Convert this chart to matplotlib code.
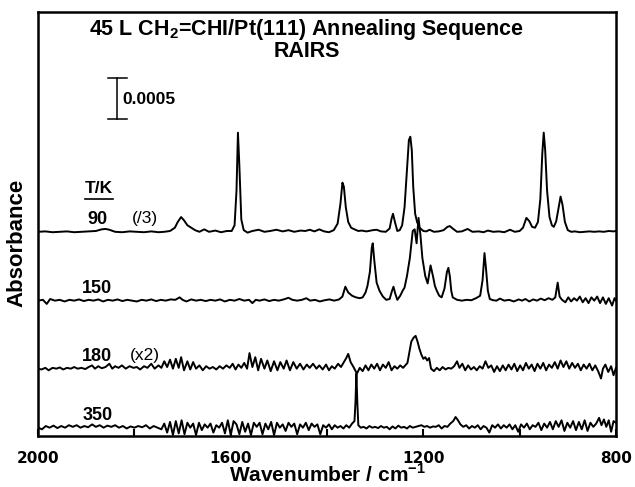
import numpy as np
import matplotlib
matplotlib.use("Agg")
import matplotlib.pyplot as plt
from matplotlib.ticker import MultipleLocator

plt.rcParams['font.family'] = ['Liberation Sans', 'DejaVu Sans']
plt.rcParams['mathtext.fontset'] = 'custom'
plt.rcParams['mathtext.rm'] = 'Liberation Sans:bold'
plt.rcParams['mathtext.bf'] = 'Liberation Sans:bold'

# absorbance in units of 1e-4, as plotted (90 K trace divided by 3, 180 K trace times 2)
wn_90 = [2000, 1985, 1970, 1955, 1940, 1925, 1910, 1895, 1880, 1868, 1860, 1852, 1840, 1825,
         1810, 1795, 1780, 1765, 1750, 1738, 1726, 1716, 1710, 1703, 1697, 1690, 1682, 1674,
         1665, 1655, 1645, 1632, 1620, 1608, 1598, 1592, 1588, 1585, 1582, 1578, 1573, 1565,
         1555, 1542, 1530, 1518, 1505, 1492, 1480, 1468, 1455, 1445, 1436, 1426, 1416, 1406,
         1396, 1386, 1378, 1372, 1368, 1365, 1361, 1356, 1350, 1343, 1335, 1328, 1318, 1305,
         1297, 1288, 1278, 1270, 1266, 1263, 1259, 1254, 1249, 1244, 1239, 1234, 1230, 1227,
         1224, 1221, 1217, 1213, 1208, 1200, 1194, 1187, 1178, 1168, 1158, 1150, 1145, 1139,
         1130, 1120, 1108, 1098, 1085, 1075, 1066, 1055, 1043, 1032, 1020, 1010, 1000, 993,
         986, 980, 974, 968, 962, 957, 953, 950, 947, 943, 938, 933, 929, 924, 919, 915, 911,
         906, 900, 893, 885, 875, 865, 855, 845, 835, 825, 815, 805, 800]
abs_90 = [0.0, 0.05, -0.05, 0.0, 0.05, -0.05, 0.0, 0.05, 0.1, 0.3, 0.35, 0.25, 0.0, -0.05,
          0.05, 0.0, -0.05, 0.05, -0.05, 0.0, 0.1, 0.5, 1.2, 1.8, 1.4, 0.8, 0.5, 0.2,
          0.0, 0.3, 0.0, 0.15, -0.05, 0.1, 0.1, 0.8, 5.0, 12.1, 8.0, 1.5, 0.2, -0.1,
          0.1, 0.25, 0.0, 0.1, 0.25, 0.05, 0.2, 0.0, 0.15, 0.1, 0.25, 0.05, 0.3, 0.05,
          -0.05, 0.2, 1.0, 3.5, 6.0, 5.5, 3.0, 1.2, 0.5, 0.3, 0.1, 0.15, 0.05, 0.2,
          0.25, 0.05, 0.0, 0.4, 1.6, 2.2, 1.2, 0.1, 0.2, 0.8, 3.0, 7.5, 11.2, 11.6,
          10.0, 5.5, 2.2, 1.2, 0.5, 0.1, 0.05, 0.25, 0.0, 0.05, 0.2, 0.6, 0.7, 0.4,
          0.0, 0.05, 0.35, 0.0, 0.05, -0.05, 0.15, 0.0, 0.05, -0.05, 0.25, 0.0, 0.1, 0.5,
          1.7, 1.3, 0.6, 0.5, 1.2, 4.0, 9.5, 12.1, 10.0, 5.0, 1.8, 0.8, 0.6, 1.3, 3.0, 4.3, 3.3,
          1.2, 0.2, 0.0, 0.05, -0.05, 0.0, 0.05, 0.0, 0.05, 0.0, 0.1, 0.05, 0.1]

wn_150 = [2000, 1990, 1982, 1975, 1965, 1955, 1945, 1935, 1925, 1915, 1905, 1895, 1885, 1875,
          1865, 1855, 1845, 1835, 1825, 1815, 1805, 1795, 1785, 1775, 1765, 1755, 1745, 1735,
          1725, 1715, 1706, 1700, 1692, 1682, 1672, 1662, 1652, 1642, 1632, 1622, 1612, 1602,
          1592, 1582, 1572, 1562, 1555, 1548, 1540, 1530, 1520, 1510, 1500, 1490, 1480, 1472,
          1462, 1452, 1443, 1435, 1425, 1415, 1405, 1395, 1385, 1375, 1368, 1362, 1356, 1348,
          1340, 1332, 1326, 1320, 1316, 1311, 1307, 1305, 1302, 1297, 1291, 1284, 1277, 1270,
          1265, 1262, 1258, 1254, 1248, 1243, 1239, 1234, 1228, 1222, 1218, 1214, 1210, 1206,
          1202, 1196, 1191, 1185, 1180, 1176, 1172, 1167, 1162, 1156, 1151, 1148, 1145, 1142,
          1139, 1130, 1120, 1110, 1100, 1089, 1082, 1077, 1073, 1070, 1066, 1062, 1055, 1048,
          1041, 1032, 1022, 1012, 1002, 995, 988, 980, 972, 964, 956, 948, 940, 932, 926, 921,
          917, 912, 905, 899, 893, 887, 881, 875, 869, 863, 857, 851, 845, 839, 833, 827, 821,
          815, 808, 803, 800]
abs_150 = [0.0, 0.1, -0.4, 0.2, 0.0, 0.1, -0.1, 0.1, 0.0, 0.15, -0.05, 0.1, 0.0, 0.15,
           -0.1, 0.1, 0.0, 0.15, -0.05, 0.1, 0.0, -0.1, 0.1, 0.0, 0.15, -0.05, 0.1, 0.0,
           0.15, 0.1, 0.4, 0.1, -0.1, 0.15, 0.0, 0.1, -0.05, 0.1, 0.0, 0.15, -0.1, 0.1,
           0.0, 0.2, 0.0, 0.1, -0.3, 0.1, 0.0, 0.15, -0.05, 0.1, 0.0, 0.15, 0.35, 0.1,
           0.0, 0.1, 0.3, 0.0, 0.1, -0.1, 0.05, 0.15, 0.0, 0.15, 0.5, 1.7, 1.0, 0.6,
           0.4, 0.3, 0.4, 1.0, 1.8, 3.5, 6.5, 7.0, 5.0, 2.2, 1.2, 0.5, 0.1, 0.2,
           1.2, 1.7, 0.8, 0.1, 0.6, 1.2, 1.6, 3.0, 5.2, 8.5, 8.7, 7.0, 10.1, 8.0,
           5.2, 3.0, 2.1, 4.3, 3.0, 1.8, 1.2, 0.6, 0.4, 1.5, 3.5, 4.0, 3.0, 1.2,
           0.4, 0.1, 0.0, 0.1, 0.05, 0.35, 0.6, 2.5, 5.8, 4.0, 1.2, 0.2, 0.05, 0.0,
           0.25, 0.0, 0.1, -0.1, 0.15, 0.0, 0.2, -0.1, 0.15, 0.0, 0.25, 0.05, 0.3, 0.1, 0.4, 2.2,
           0.5, 0.1, -0.2, 0.4, -0.1, 0.3, 0.0, 0.5, -0.2, 0.3, -0.3, 0.4, 0.0, 0.5, -0.3, 0.4, -0.4,
           0.3, -0.6, 0.3, 0.0]

wn_180 = [2000, 1993, 1985, 1978, 1970, 1962, 1955, 1948, 1940, 1932, 1925, 1918, 1910, 1902,
          1895, 1888, 1882, 1875, 1868, 1860, 1852, 1846, 1840, 1833, 1826, 1818, 1810, 1802,
          1795, 1788, 1780, 1773, 1765, 1758, 1750, 1744, 1738, 1732, 1726, 1720, 1714, 1708,
          1703, 1697, 1690, 1684, 1678, 1672, 1665, 1658, 1651, 1644, 1637, 1630, 1623, 1616,
          1609, 1602, 1596, 1590, 1584, 1578, 1572, 1566, 1561, 1555, 1549, 1543, 1537, 1530,
          1524, 1517, 1510, 1503, 1497, 1490, 1484, 1477, 1470, 1463, 1456, 1449, 1442, 1436,
          1429, 1422, 1416, 1409, 1402, 1396, 1390, 1384, 1377, 1371, 1365, 1360, 1356, 1351,
          1345, 1338, 1332, 1326, 1320, 1314, 1308, 1302, 1296, 1290, 1284, 1278, 1272, 1266,
          1260, 1254, 1248, 1242, 1236, 1233, 1229, 1225, 1220, 1216, 1212, 1208, 1204, 1200,
          1196, 1192, 1188, 1184, 1178, 1172, 1166, 1160, 1154, 1148, 1142, 1136, 1130, 1125,
          1119, 1113, 1107, 1101, 1095, 1089, 1083, 1077, 1071, 1065, 1059, 1053, 1047, 1041,
          1035, 1029, 1023, 1017, 1011, 1005, 999, 993, 987, 981, 975, 969, 963, 957, 951, 945,
          939, 933, 927, 921, 915, 909, 903, 897, 891, 885, 879, 873, 867, 861, 855, 849, 843,
          837, 831, 827, 822, 816, 810, 805, 800]
abs_180 = [0.0, -0.1, 0.1, -0.2, 0.1, 0.0, 0.15, -0.1, 0.1, 0.0, 0.2, 0.0, 0.1, -0.05,
           0.2, 0.4, 0.0, 0.3, 0.05, 0.2, 0.6, 0.0, 0.3, 0.1, 0.4, 0.0, 0.3, 0.1,
           0.2, -0.1, 0.3, 0.1, 0.6, 0.0, 0.4, 0.1, 0.9, 0.2, 1.1, 0.0, 1.2, 0.1,
           1.4, -0.2, 0.9, -0.1, 0.8, 0.0, 0.4, -0.2, 0.3, 0.0, 0.2, -0.1, 0.3, 0.0,
           0.4, 0.1, 0.6, -0.1, 0.5, 0.1, 0.7, 0.0, 1.9, 0.2, 1.4, -0.2, 1.2, 0.0,
           1.0, -0.3, 0.9, -0.2, 0.8, 0.0, 1.0, -0.2, 0.8, 0.0, 0.6, -0.1, 0.5, 0.1,
           0.6, 0.0, 0.4, -0.1, 0.5, -0.2, 0.3, 0.0, 0.6, 0.2, 0.8, 1.3, 1.8, 0.8,
           0.2, -0.6, 0.1, -0.3, 0.4, -0.2, 0.5, 0.0, 0.6, -0.2, 0.5, 0.1, 0.8, -0.2,
           0.3, 0.0, 0.4, 0.1, 0.5, 0.7, 2.0, 3.3, 3.8, 4.0, 3.3, 2.4, 1.7, 1.2,
           1.4, 1.0, 1.3, 0.0, -0.3, 0.1, -0.2, 0.2, -0.1, 0.1, 0.0, 0.3, 0.9, 0.1,
           0.6, -0.2, 0.4, -0.1, 0.2, -0.2, 0.3, 0.0, 0.9, 0.1, 0.4, -0.4, 0.3, -0.3,
           0.4, -0.2, 0.5, -0.1, 0.6, -0.3, 0.4, -0.2, 0.7, 0.0, 0.5, -0.3, 0.6, 0.0, 0.7, -0.2,
           0.5, 0.1, 0.8, 0.0, 1.0, 0.2, 0.9, 0.0, 0.7, 0.1, 0.6, -0.2, 0.5, 0.0, 0.6, -0.2, 0.4,
           -0.3, -1.2, 0.0, 0.5, -0.4, 0.3, -0.8, 0.1]

wn_350 = [2000, 1992, 1984, 1976, 1968, 1960, 1952, 1944, 1936, 1928, 1920, 1912, 1904, 1896,
          1888, 1880, 1872, 1864, 1856, 1848, 1840, 1832, 1824, 1816, 1808, 1800, 1792, 1784,
          1776, 1768, 1760, 1752, 1744, 1738, 1732, 1726, 1720, 1714, 1708, 1702, 1696, 1690,
          1684, 1678, 1672, 1666, 1660, 1654, 1648, 1642, 1636, 1630, 1624, 1618, 1612, 1606,
          1600, 1594, 1588, 1582, 1576, 1570, 1564, 1558, 1552, 1546, 1540, 1534, 1528, 1522,
          1516, 1510, 1504, 1498, 1492, 1486, 1480, 1474, 1468, 1462, 1456, 1450, 1444, 1438,
          1432, 1426, 1420, 1414, 1408, 1402, 1396, 1390, 1384, 1378, 1372, 1366, 1360, 1354,
          1348, 1343, 1341, 1339, 1337, 1335, 1330, 1324, 1318, 1312, 1306, 1300, 1294, 1288,
          1282, 1276, 1270, 1264, 1258, 1252, 1246, 1240, 1234, 1228, 1222, 1216, 1210, 1204,
          1198, 1192, 1186, 1180, 1174, 1168, 1162, 1156, 1150, 1144, 1138, 1133, 1128, 1123,
          1117, 1111, 1105, 1099, 1093, 1087, 1081, 1075, 1069, 1063, 1057, 1051, 1045, 1039,
          1033, 1027, 1021, 1015, 1009, 1003, 997, 991, 985, 979, 973, 967, 961, 955, 949, 943,
          937, 931, 925, 919, 913, 907, 901, 895, 889, 883, 877, 871, 865, 859, 853, 847, 841,
          835, 830, 825, 820, 815, 810, 805, 800]
abs_350 = [0.0, -0.2, 0.2, 0.0, 0.25, -0.05, 0.2, 0.0, 0.3, 0.1, 0.3, 0.0, 0.2, 0.05,
           0.4, 0.1, 0.3, 0.0, 0.25, 0.1, 0.3, 0.0, 0.2, -0.1, 0.15, 0.0, 0.2, 0.05,
           0.3, -0.1, 0.2, 0.0, -0.2, 0.5, -0.6, 0.7, -0.9, 0.8, -0.7, 0.9, -0.8, 0.6,
           0.0, 0.5, -0.9, 0.6, -0.3, 0.4, 0.0, 0.5, -0.6, 0.3, 0.0, 0.6, -0.7, 0.9,
           -0.9, 0.8, 0.4, -0.8, 0.7, -0.5, 0.5, -0.9, 0.6, 0.1, 0.6, -0.8, 0.5, -0.2,
           0.7, -0.9, 0.6, 0.0, 0.4, -0.4, 0.6, 0.1, 0.5, -0.8, 0.4, 0.0, 0.6, -0.3,
           0.5, 0.1, 0.4, -0.8, 0.3, 0.0, 0.4, -0.2, 0.3, 0.0, 0.2, -0.1, 0.3, 0.0,
           0.5, 0.8, 3.0, 6.6, 3.0, 0.3, 0.0, 0.1, -0.1, 0.2, 0.0, 0.1, -0.05, 0.2,
           0.0, 0.1, -0.2, 0.15, -0.1, 0.25, 0.0, 0.1, -0.1, 0.2, 0.0, 0.1, 0.2, 0.3,
           0.1, 0.2, 0.0, 0.15, 0.1, 0.3, -0.1, 0.2, 0.1, 0.5, 0.8, 1.3, 0.9, 0.4,
           0.1, 0.3, -0.1, 0.2, 0.0, 0.3, -0.2, 0.2, 0.0, -0.6, 0.3, 0.0, 0.4, -0.1,
           0.3, 0.0, 0.4, -0.2, 0.3, -0.5, 0.4, 0.0, 0.5, -0.2, 0.3, 0.1, 0.6, -0.3, 0.5, 0.0,
           0.7, -0.2, 0.8, 0.1, 0.9, -0.4, 0.6, 0.0, 0.8, -0.3, 0.7, -0.2, 0.9, -0.4, 0.6, 0.1, 0.5,
           1.2, 0.3, 1.0, 0.1, 0.9, -0.5, 0.8, 0.6]

temps = ['90', '150', '180', '350']
notes = ['(/3)', '', '(x2)', '']
offsets = [24.9, 16.5, 8.2, 1.0]

fig = plt.figure(figsize=(6.35, 4.87), dpi=100)
ax = fig.add_axes([0.06, 0.105, 0.91, 0.87])

traces = [(wn_90, abs_90), (wn_150, abs_150), (wn_180, abs_180), (wn_350, abs_350)]
for (wn, a), off in zip(traces, offsets):
    ax.plot(wn, np.array(a) + off, color='black', lw=1.4)

ax.set_xlim(2000, 800)
ax.set_ylim(0, 51.7)
ax.xaxis.set_major_locator(MultipleLocator(400))
ax.xaxis.set_minor_locator(MultipleLocator(200))
ax.tick_params(axis='x', which='both', direction='in', length=5, width=1.5, pad=11)
ax.tick_params(axis='y', left=False, labelleft=False)
for lab in ax.get_xticklabels():
    lab.set_fontfamily('DejaVu Sans')
    lab.set_fontweight('bold')
    lab.set_fontsize(11)
for sp in ax.spines.values():
    sp.set_linewidth(1.8)

ax.set_xlabel('Wavenumber / cm$^{-1}$', fontsize=15, fontweight='bold', labelpad=-2)
ax.set_ylabel('Absorbance', fontsize=16, fontweight='bold')
ax.yaxis.set_label_coords(-0.018, 0.455)

ax.text(0.465, 0.935, '45 L CH$_{2}$=CHI/Pt(111) Annealing Sequence\nRAIRS',
        transform=ax.transAxes, ha='center', va='center', fontsize=15.5,
        fontweight='bold', linespacing=0.92)

# 0.0005 scale bar
ax.plot([1836, 1836], [38.7, 43.7], color='black', lw=1.1)
ax.plot([1854, 1815], [38.7, 38.7], color='black', lw=1.1)
ax.plot([1854, 1815], [43.7, 43.7], color='black', lw=1.1)
ax.text(1824, 41.1, '0.0005', ha='left', va='center', fontsize=12.5, fontweight='bold')

ax.text(1873, 30.2, 'T/K', ha='center', va='center', fontsize=12.5, fontweight='bold')
ax.plot([1903, 1844], [28.9, 28.9], color='black', lw=1.2)
for t, n, off in zip(temps, notes, offsets):
    ax.text(1877, off + 1.5, t, ha='center', va='center', fontsize=13, fontweight='bold')
    if n:
        ax.text(1778, off + 1.6, n, ha='center', va='center', fontsize=12.5)

fig.savefig('out.png', dpi=100)
